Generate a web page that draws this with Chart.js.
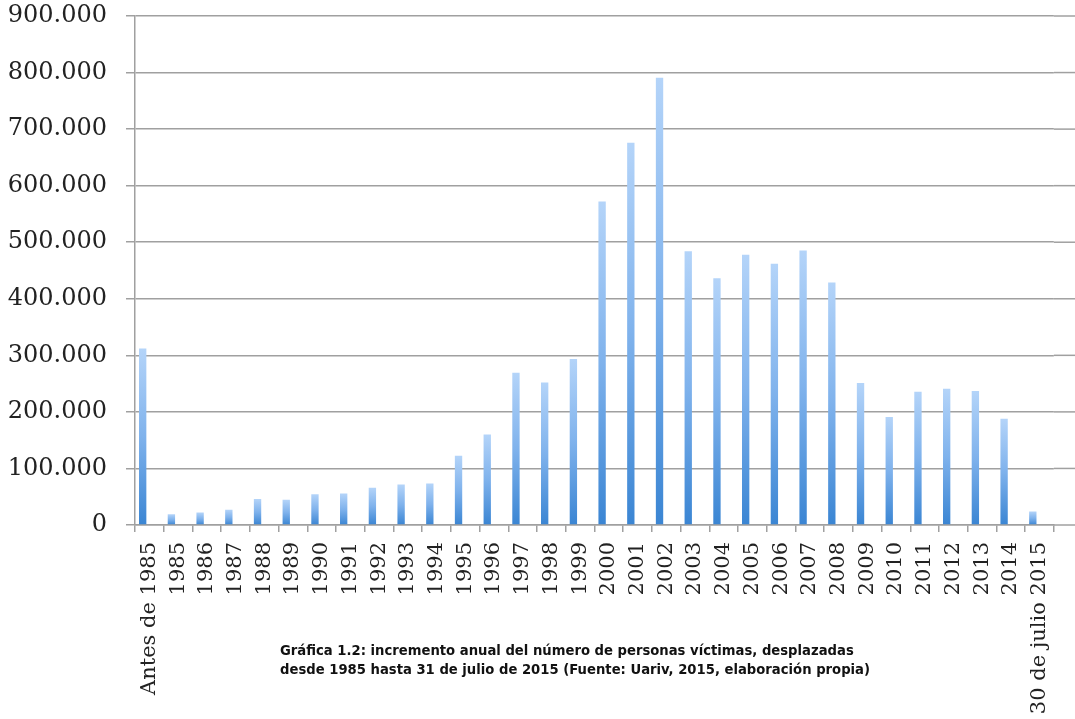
<!DOCTYPE html>
<html>
<head>
<meta charset="utf-8">
<script src="https://cdn.jsdelivr.net/npm/chart.js@4"></script>
<style>
  body { margin: 0; background: #fff; }
  #wrap { position: relative; width: 1075px; height: 719px; }
  #caption {
    position: absolute; left: 280px; top: 641px;
    font-family: "DejaVu Sans", sans-serif; font-weight: bold;
    font-size: 13.2px; line-height: 19px; color: #111; white-space: nowrap;
  }
</style>
</head>
<body>
<div id="wrap">
  <canvas id="chart"></canvas>
  <div id="caption">Gráfica 1.2: incremento anual del número de personas víctimas, desplazadas<br>desde 1985 hasta 31 de julio de 2015 (Fuente: Uariv, 2015, elaboración propia)</div>
</div>
<script>
const labels = ['Antes de 1985', '1985', '1986', '1987', '1988', '1989', '1990', '1991',
  '1992', '1993', '1994', '1995', '1996', '1997', '1998', '1999', '2000', '2001', '2002',
  '2003', '2004', '2005', '2006', '2007', '2008', '2009', '2010', '2011', '2012', '2013',
  '2014', '30 de julio 2015'];

// personas desplazadas por año
const desplazados = [312000, 19000, 22000, 27000, 46000, 44500, 54500, 55500,
  66000, 71500, 73500, 122500, 160000, 269000, 252000, 293500, 572000, 676000, 791000,
  484000, 436500, 478000, 462000, 485500, 429000, 251000, 191000, 235500, 241000, 237000,
  188000, 24000];

const yTicks = [0, 100000, 200000, 300000, 400000, 500000, 600000, 700000, 800000, 900000];

function fmt(v) {
  return String(v).replace(/\B(?=(\d{3})+(?!\d))/g, '.');
}

function barGradient(c) {
  const chart = c.chart;
  if (!chart.chartArea || c.type !== 'data' || c.raw == null) return '#6fa8e8';
  const y = chart.scales.y;
  const top = y.getPixelForValue(c.raw);
  const base = y.getPixelForValue(0);
  if (!isFinite(top) || !isFinite(base) || top === base) return '#6fa8e8';
  const g = chart.ctx.createLinearGradient(0, top, 0, base);
  g.addColorStop(0, '#b4d4f9');
  g.addColorStop(0.5, '#7fb2ec');
  g.addColorStop(1, '#3a85d3');
  return g;
}

// las líneas de la cuadrícula siguen hasta el borde derecho
const extendGrid = {
  id: 'extendGrid',
  beforeDatasetsDraw(chart) {
    const ctx = chart.ctx, y = chart.scales.y, a = chart.chartArea;
    ctx.save();
    ctx.strokeStyle = '#a0a0a0';
    ctx.lineWidth = 1.5;
    yTicks.forEach(v => {
      const py = y.getPixelForValue(v);
      ctx.beginPath();
      ctx.moveTo(a.right, py);
      ctx.lineTo(chart.width, py);
      ctx.stroke();
    });
    ctx.restore();
  }
};

new Chart(document.getElementById('chart'), {
  type: 'bar',
  data: {
    labels: labels,
    datasets: [{
      label: 'Desplazados',
      data: desplazados,
      backgroundColor: barGradient,
      categoryPercentage: 0.93,
      barPercentage: 0.55
    }, {
      label: '',
      data: [],
      categoryPercentage: 0.93,
      barPercentage: 0.55
    }]
  },
  options: {
    responsive: true,
    maintainAspectRatio: false,
    animation: false,
    layout: { padding: { top: 16, right: 20, left: 0, bottom: 0 } },
    plugins: { legend: { display: false }, tooltip: { enabled: false } },
    scales: {
      x: {
        afterFit(scale) { scale.height = 194; },
        grid: { drawOnChartArea: false, drawTicks: true, tickLength: 7, color: '#a0a0a0', lineWidth: 1.5 },
        border: { color: '#a0a0a0', width: 1.5 },
        ticks: {
          autoSkip: false, maxRotation: 90, minRotation: 90, padding: 10,
          color: '#222', font: { family: 'DejaVu Serif', size: 21 }
        }
      },
      y: {
        min: 0, max: 900000,
        afterBuildTicks(scale) { scale.ticks = yTicks.map(v => ({ value: v })); },
        afterFit(scale) { scale.width = 135; scale.paddingTop = 0; scale.paddingBottom = 0; },
        grid: { color: '#a0a0a0', lineWidth: 1.5, tickLength: 9 },
        border: { color: '#a0a0a0', width: 1.5 },
        ticks: {
          padding: 19, color: '#222',
          font: { family: 'DejaVu Serif', size: 24, lineHeight: 0.5 },
          callback: v => fmt(v)
        }
      }
    }
  },
  plugins: [extendGrid]
});
</script>
</body>
</html>
